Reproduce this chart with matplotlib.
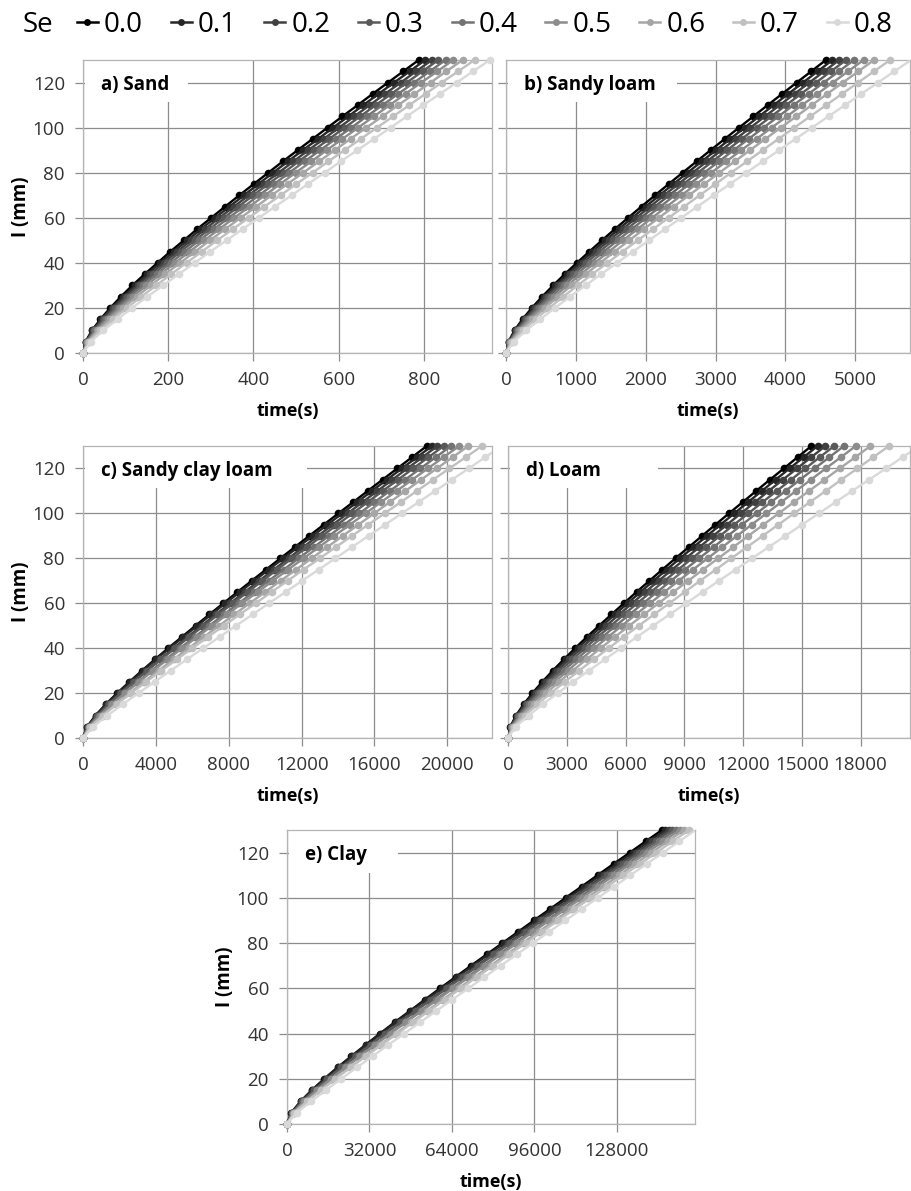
import matplotlib
matplotlib.use('Agg')
from matplotlib import pyplot as plt
from matplotlib.lines import Line2D
from matplotlib.patches import Rectangle

plt.rcParams['font.family'] = ['Open Sans', 'DejaVu Sans']

# cumulative infiltration I (mm), one marker every 5 mm
depth = [0, 5, 10, 15, 20, 25, 30, 35, 40, 45, 50, 55, 60, 65, 70, 75, 80, 85, 90, 95, 100, 105, 110, 115, 120, 125, 130]

se_labels = ['0.0', '0.1', '0.2', '0.3', '0.4', '0.5', '0.6', '0.7', '0.8']
grays = ['#000000', '#262626', '#404040', '#595959', '#737373', '#8c8c8c', '#a6a6a6', '#c0c0c0', '#d9d9d9']

##### time (s) needed to reach each depth, one row per Se
sand_time = [
    [0, 6, 21, 41, 64, 89, 116, 145, 175, 205, 237, 268, 301, 334, 367, 401, 435, 469, 504, 539, 574, 609, 645, 680, 716, 752, 788],
    [0, 7, 22, 43, 67, 94, 122, 151, 181, 213, 245, 277, 310, 344, 378, 412, 446, 481, 516, 552, 587, 623, 658, 694, 730, 767, 803],
    [0, 7, 24, 46, 71, 99, 128, 158, 189, 221, 254, 287, 320, 355, 389, 424, 459, 494, 529, 565, 601, 637, 673, 709, 746, 782, 819],
    [0, 8, 26, 49, 76, 104, 134, 165, 197, 229, 263, 297, 331, 365, 400, 435, 471, 506, 542, 578, 614, 651, 687, 724, 760, 797, 834],
    [0, 9, 29, 53, 81, 110, 141, 173, 206, 239, 273, 308, 342, 378, 413, 449, 484, 520, 557, 593, 630, 666, 703, 740, 777, 814, 851],
    [0, 10, 32, 58, 87, 117, 149, 182, 216, 250, 285, 320, 355, 391, 427, 463, 499, 536, 572, 609, 646, 683, 720, 757, 794, 832, 869],
    [0, 12, 35, 63, 94, 126, 159, 193, 228, 263, 298, 334, 370, 407, 443, 480, 517, 554, 591, 628, 665, 703, 740, 778, 816, 853, 891],
    [0, 14, 40, 71, 103, 137, 172, 207, 243, 279, 315, 352, 389, 426, 464, 501, 539, 576, 614, 652, 690, 728, 766, 804, 842, 881, 919],
    [0, 18, 48, 81, 115, 151, 188, 225, 262, 299, 337, 375, 413, 451, 490, 528, 567, 605, 644, 683, 722, 760, 799, 838, 877, 916, 955],
]

sandy_loam_time = [
    [0, 37, 122, 237, 371, 518, 676, 842, 1015, 1193, 1375, 1560, 1749, 1941, 2135, 2331, 2529, 2729, 2930, 3133, 3337, 3542, 3748, 3955, 4163, 4372, 4581],
    [0, 40, 131, 252, 392, 545, 708, 879, 1056, 1238, 1424, 1614, 1807, 2002, 2199, 2398, 2599, 2802, 3006, 3211, 3417, 3625, 3833, 4043, 4253, 4464, 4675],
    [0, 44, 141, 269, 415, 574, 743, 919, 1101, 1287, 1477, 1670, 1867, 2065, 2265, 2468, 2672, 2877, 3083, 3291, 3500, 3710, 3920, 4132, 4344, 4557, 4770],
    [0, 48, 153, 288, 441, 607, 781, 963, 1149, 1340, 1534, 1732, 1931, 2133, 2337, 2542, 2749, 2957, 3166, 3376, 3587, 3799, 4012, 4226, 4440, 4655, 4870],
    [0, 54, 168, 312, 473, 645, 826, 1013, 1205, 1401, 1600, 1802, 2005, 2211, 2418, 2627, 2837, 3049, 3261, 3474, 3688, 3902, 4118, 4334, 4550, 4767, 4985],
    [0, 61, 186, 340, 510, 691, 879, 1073, 1271, 1473, 1677, 1883, 2092, 2302, 2514, 2726, 2940, 3155, 3371, 3588, 3805, 4023, 4241, 4460, 4680, 4900, 5120],
    [0, 71, 209, 375, 555, 745, 941, 1142, 1347, 1555, 1765, 1977, 2190, 2405, 2621, 2838, 3056, 3275, 3495, 3715, 3936, 4157, 4379, 4601, 4824, 5047, 5270],
    [0, 86, 242, 423, 617, 819, 1027, 1238, 1452, 1669, 1888, 2108, 2329, 2552, 2775, 2999, 3224, 3450, 3676, 3903, 4130, 4357, 4585, 4814, 5042, 5271, 5500],
    [0, 109, 289, 490, 701, 918, 1139, 1364, 1590, 1818, 2048, 2278, 2510, 2742, 2975, 3208, 3442, 3676, 3911, 4146, 4382, 4618, 4854, 5090, 5326, 5563, 5800],
]

sandy_clay_loam_time = [
    [0, 230, 690, 1250, 1880, 2550, 3240, 3950, 4680, 5430, 6180, 6940, 7710, 8480, 9260, 10050, 10840, 11630, 12420, 13220, 14020, 14830, 15630, 16440, 17250, 18060, 18870],
    [0, 230, 700, 1270, 1910, 2580, 3290, 4010, 4750, 5510, 6270, 7040, 7820, 8610, 9400, 10200, 11000, 11800, 12610, 13420, 14230, 15050, 15860, 16680, 17500, 18330, 19150],
    [0, 260, 770, 1380, 2050, 2750, 3470, 4220, 4970, 5740, 6510, 7290, 8080, 8880, 9670, 10480, 11280, 12090, 12900, 13710, 14530, 15340, 16160, 16980, 17800, 18630, 19450],
    [0, 270, 790, 1410, 2080, 2800, 3540, 4290, 5060, 5840, 6630, 7430, 8230, 9040, 9850, 10660, 11480, 12300, 13130, 13960, 14790, 15620, 16450, 17290, 18120, 18960, 19800],
    [0, 320, 890, 1550, 2270, 3010, 3770, 4550, 5330, 6130, 6930, 7740, 8550, 9370, 10190, 11020, 11840, 12670, 13500, 14330, 15170, 16000, 16840, 17680, 18520, 19360, 20200],
    [0, 320, 910, 1590, 2320, 3070, 3850, 4650, 5450, 6270, 7090, 7910, 8740, 9580, 10420, 11260, 12110, 12950, 13800, 14650, 15510, 16360, 17220, 18070, 18930, 19790, 20650],
    [0, 400, 1050, 1790, 2560, 3350, 4150, 4970, 5800, 6630, 7470, 8310, 9150, 10000, 10850, 11700, 12550, 13410, 14260, 15120, 15980, 16840, 17700, 18560, 19420, 20290, 21150],
    [0, 410, 1090, 1850, 2650, 3470, 4300, 5150, 6000, 6860, 7730, 8600, 9480, 10350, 11230, 12110, 13000, 13880, 14770, 15660, 16550, 17440, 18330, 19220, 20110, 21010, 21900],
    [0, 550, 1340, 2180, 3050, 3930, 4810, 5700, 6600, 7500, 8400, 9310, 10210, 11120, 12030, 12940, 13850, 14760, 15680, 16590, 17500, 18420, 19330, 20250, 21170, 22080, 23000],
]

loam_time = [
    [0, 120, 410, 800, 1250, 1750, 2290, 2850, 3430, 4030, 4650, 5280, 5920, 6560, 7220, 7880, 8550, 9230, 9910, 10590, 11280, 11980, 12670, 13370, 14080, 14780, 15490],
    [0, 130, 440, 850, 1320, 1840, 2390, 2970, 3570, 4180, 4810, 5450, 6110, 6760, 7430, 8100, 8780, 9470, 10160, 10850, 11550, 12250, 12960, 13660, 14370, 15090, 15800],
    [0, 150, 480, 910, 1410, 1950, 2520, 3120, 3740, 4370, 5020, 5670, 6340, 7010, 7690, 8380, 9070, 9770, 10470, 11180, 11890, 12600, 13310, 14030, 14750, 15480, 16200],
    [0, 160, 520, 990, 1510, 2080, 2670, 3290, 3930, 4580, 5250, 5920, 6600, 7290, 7990, 8690, 9400, 10110, 10820, 11540, 12270, 12990, 13720, 14450, 15180, 15910, 16650],
    [0, 190, 580, 1070, 1630, 2220, 2840, 3490, 4150, 4820, 5500, 6200, 6900, 7610, 8320, 9040, 9760, 10490, 11220, 11950, 12690, 13430, 14170, 14910, 15650, 16400, 17150],
    [0, 210, 650, 1180, 1770, 2390, 3050, 3720, 4410, 5110, 5810, 6530, 7250, 7980, 8710, 9450, 10190, 10940, 11690, 12440, 13190, 13950, 14700, 15460, 16220, 16990, 17750],
    [0, 250, 730, 1320, 1950, 2610, 3300, 4010, 4730, 5460, 6190, 6940, 7690, 8440, 9200, 9960, 10730, 11500, 12270, 13040, 13820, 14590, 15370, 16150, 16930, 17720, 18500],
    [0, 300, 860, 1500, 2180, 2900, 3630, 4380, 5140, 5900, 6680, 7450, 8240, 9020, 9810, 10610, 11400, 12200, 13000, 13800, 14600, 15410, 16220, 17020, 17830, 18640, 19450],
    [0, 390, 1050, 1770, 2540, 3320, 4130, 4940, 5760, 6580, 7410, 8250, 9090, 9930, 10770, 11620, 12460, 13310, 14160, 15010, 15870, 16720, 17570, 18430, 19290, 20140, 21000],
]

clay_time = [
    [0, 1700, 5300, 9700, 14500, 19600, 25000, 30500, 36100, 41800, 47700, 53500, 59400, 65400, 71400, 77500, 83600, 89700, 95800, 102000, 108100, 114300, 120500, 126700, 133000, 139200, 145500],
    [0, 1800, 5300, 9700, 14600, 19800, 25200, 30800, 36400, 42200, 48100, 54000, 60000, 66000, 72100, 78200, 84300, 90500, 96700, 102900, 109100, 115300, 121600, 127900, 134200, 140500, 146800],
    [0, 2000, 5900, 10500, 15600, 20900, 26400, 32100, 37900, 43700, 49600, 55500, 61500, 67600, 73700, 79800, 85900, 92000, 98200, 104400, 110600, 116800, 123100, 129300, 135600, 141800, 148100],
    [0, 2000, 5900, 10600, 15700, 21100, 26700, 32400, 38200, 44100, 50000, 56000, 62100, 68200, 74300, 80500, 86600, 92800, 99100, 105300, 111600, 117800, 124100, 130400, 136700, 143100, 149400],
    [0, 2400, 6600, 11600, 16900, 22500, 28100, 33900, 39800, 45800, 51800, 57800, 63900, 70000, 76100, 82200, 88400, 94600, 100800, 107000, 113200, 119500, 125700, 132000, 138200, 144500, 150800],
    [0, 2400, 6700, 11700, 17100, 22700, 28400, 34300, 40200, 46200, 52300, 58400, 64500, 70700, 76800, 83100, 89300, 95500, 101800, 108100, 114400, 120700, 127000, 133300, 139600, 146000, 152300],
    [0, 2900, 7700, 13000, 18600, 24400, 30300, 36200, 42200, 48300, 54400, 60500, 66600, 72800, 79000, 85200, 91400, 97600, 103900, 110100, 116300, 122600, 128900, 135100, 141400, 147700, 154000],
    [0, 2900, 7800, 13200, 18800, 24700, 30600, 36700, 42800, 48900, 55100, 61300, 67500, 73700, 80000, 86300, 92600, 98900, 105200, 111500, 117900, 124200, 130500, 136900, 143300, 149600, 156000],
    [0, 3800, 9300, 15100, 21000, 27100, 33200, 39300, 45500, 51700, 57900, 64100, 70400, 76600, 82900, 89200, 95400, 101700, 108000, 114300, 120600, 126900, 133200, 139500, 145900, 152200, 158500],
]

panel_titles = ['a) Sand', 'b) Sandy loam', 'c) Sandy clay loam', 'd) Loam', 'e) Clay']
panel_times = [sand_time, sandy_loam_time, sandy_clay_loam_time, loam_time, clay_time]
panel_xmax = [960, 5785, 22450, 20520, 158300]
panel_xticks = [
    [0, 200, 400, 600, 800],
    [0, 1000, 2000, 3000, 4000, 5000],
    [0, 4000, 8000, 12000, 16000, 20000],
    [0, 3000, 6000, 9000, 12000, 15000, 18000],
    [0, 32000, 64000, 96000, 128000],
]
yticks = [0, 20, 40, 60, 80, 100, 120]

##### layout (pixel boxes of the 911 x 1191 figure: left, top, right, bottom)
W, H = 911.0, 1191.0
boxes = [(83, 60, 492, 353), (506, 60, 910, 353),
         (83, 446, 492, 738), (508, 446, 910, 738),
         (287, 830, 695, 1124)]
title_box_right = [188, 677, 307, 658, 398]   # white box behind each panel title
show_ylabel = [True, False, True, False, True]

fig = plt.figure(figsize=(9.11, 11.91), dpi=100)

for p in range(5):
    l, t, r, b = boxes[p]
    ax = fig.add_axes([l / W, 1 - b / H, (r - l) / W, (b - t) / H])
    xmax = panel_xmax[p]
    for k in range(9):
        times = panel_times[p][k]
        ax.plot(times, depth, '-', color=grays[k], lw=1.7, zorder=3)
        # markers are not cut at the top edge (like the Excel original)
        inside = [v for v in times if v <= xmax]
        ax.plot(inside, depth[:len(inside)], 'o', color=grays[k], ms=5.5,
                mew=0, clip_on=False, zorder=3)

    ax.set_xlim(0, xmax)
    ax.set_ylim(0, 130)
    ax.set_xticks(panel_xticks[p])
    ax.set_yticks(yticks)
    ax.grid(True, color='#8c8c8c', lw=0.9)
    ax.set_axisbelow(True)
    for s in ax.spines.values():
        s.set_color('#b4b4b4')
        s.set_linewidth(0.9)
    ax.tick_params(direction='out', length=6, width=0.9, color='#8c8c8c',
                   labelsize=13.5, labelcolor='#333333', pad=7)
    if show_ylabel[p]:
        ax.set_ylabel('I (mm)', fontsize=13.5, fontweight='bold')
        ax.yaxis.set_label_coords(-0.128, 0.5)
    else:
        ax.tick_params(labelleft=False)
    ax.set_xlabel('time(s)', fontsize=13, fontweight='bold')
    ax.xaxis.set_label_coords(0.5, -0.167)

    # panel title on a white box that hides the gridlines behind it
    box_w = (title_box_right[p] - l) / (r - l)
    ax.add_patch(Rectangle((0.006, 0.855), box_w - 0.006, 0.14, transform=ax.transAxes,
                           fc='white', ec='none', zorder=1))
    ax.text(0.045, 0.915, panel_titles[p], transform=ax.transAxes,
            fontsize=13.5, fontweight='bold', ha='left', va='center', zorder=6)

##### legend row at the top
handles = [Line2D([], [], color=grays[k], lw=1.8, marker='o', ms=5, mew=0) for k in range(9)]
fig.text(23 / W, 1 - 25 / H, 'Se', fontsize=20, ha='left', va='center')
fig.legend(handles, se_labels, ncol=9, loc='center left',
           bbox_to_anchor=(77 / W, 1 - 25 / H), frameon=False, fontsize=20,
           handlelength=0.75, handletextpad=0.22, columnspacing=1.0,
           borderpad=0, borderaxespad=0)

plt.savefig('out.png', dpi=100)
